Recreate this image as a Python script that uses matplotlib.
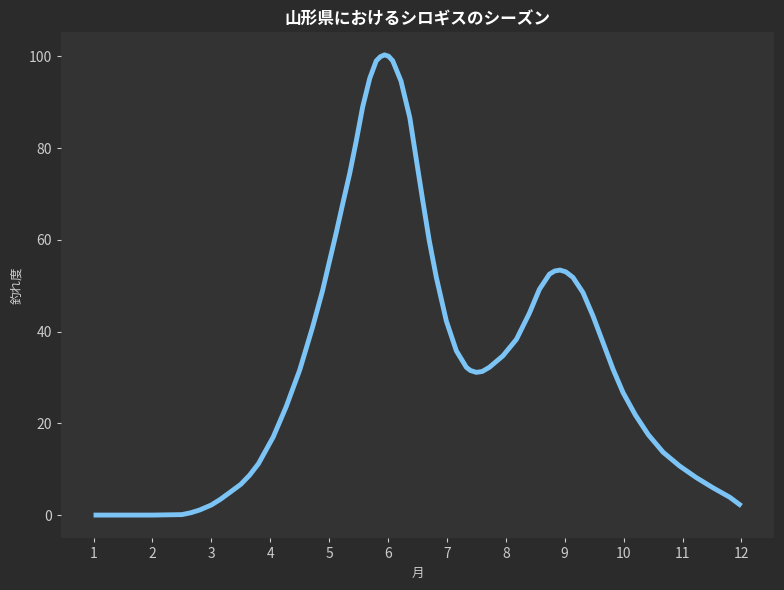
import matplotlib
matplotlib.use("Agg")
import matplotlib.pyplot as plt

plt.rcParams['font.family'] = ['Noto Sans CJK JP', 'DejaVu Sans']

# values
months = [1.0, 1.5, 2.0, 2.5, 2.65, 2.8, 3.0, 3.15, 3.3, 3.5, 3.65, 3.8,
          4.05, 4.27, 4.5, 4.72, 4.89, 5.0, 5.12, 5.23, 5.35, 5.46, 5.57,
          5.69, 5.8, 5.87, 5.94, 6.01, 6.08, 6.22, 6.37, 6.48, 6.59, 6.7,
          6.82, 6.99, 7.16, 7.33, 7.4, 7.5, 7.6, 7.72, 7.95, 8.18, 8.4, 8.57,
          8.74, 8.83, 8.92, 9.02, 9.14, 9.31, 9.48, 9.65, 9.82, 9.99, 10.2,
          10.42, 10.67, 10.95, 11.23, 11.51, 11.8, 12.0]
score = [0, 0, 0, 0.1, 0.5, 1.1, 2.2, 3.4, 4.8, 6.7, 8.7, 11.2,
         17.0, 23.6, 31.6, 41, 49, 55, 61.5, 67.8, 74.5, 81.5, 89,
         95.2, 99, 99.9, 100.3, 100, 99, 94.6, 86.6, 77.5, 68.5, 59.8,
         51.8, 42.3, 35.8, 32.2, 31.5, 31.1, 31.3, 32.2, 34.7, 38.3, 44, 49.2,
         52.5, 53.2, 53.4, 53.0, 51.8, 48.5, 43.4, 37.6, 31.8, 26.7, 21.8,
         17.5, 13.7, 10.7, 8.2, 6.0, 3.9, 2.0]
xticks = list(range(1, 13))
yticks = [0, 20, 40, 60, 80, 100]

fig = plt.figure(figsize=(7.84, 5.9), dpi=100, facecolor='#2b2b2b')
ax = fig.add_axes([0.078, 0.088, 0.909, 0.858])
ax.set_facecolor('#333333')

ax.plot(months, score, color='#7cc4f5', linewidth=3.5,
        solid_joinstyle='round', solid_capstyle='butt')

ax.set_xticks(xticks)
ax.set_yticks(yticks)
ax.margins(x=0.05, y=0.05)
for s in ax.spines.values():
    s.set_visible(False)
ax.tick_params(colors='#cccccc', labelsize=10, length=3)

ax.set_title('山形県におけるシロギスのシーズン', color='white',
             fontsize=12, fontweight='bold', pad=5)
ax.set_xlabel('月', color='#cccccc', fontsize=9)
ax.set_ylabel('釣れ度', color='#cccccc', fontsize=9)

fig.savefig('out.png', dpi=100, facecolor=fig.get_facecolor())
